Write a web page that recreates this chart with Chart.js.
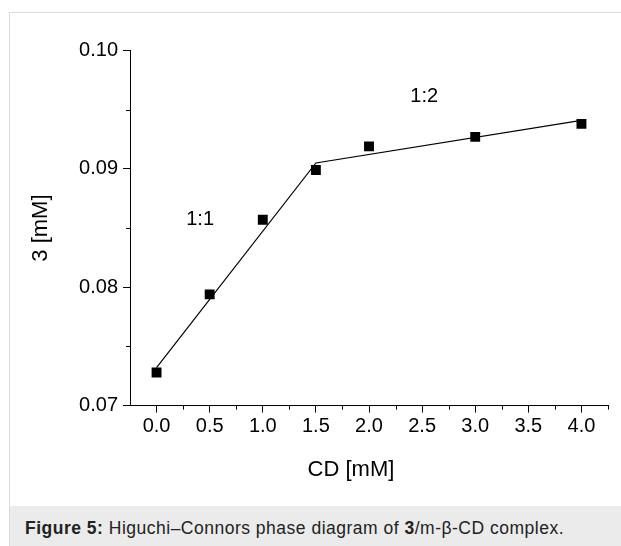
<!DOCTYPE html>
<html lang="en">
<head>
  <meta charset="UTF-8" />
  <title>Higuchi–Connors phase diagram</title>
  <script src="https://cdn.jsdelivr.net/npm/chart.js"></script>
  <style>
    html, body {
      margin: 0;
      padding: 0;
      background: #fff;
    }

    body {
      width: 621px;
      height: 546px;
      overflow: hidden;
      position: relative;
      font-family: "Liberation Sans", Arial, sans-serif;
    }

    .frame {
      position: absolute;
      left: 9px;
      top: 12px;
      right: 0;
      bottom: 0;
      border-top: 1px solid #dcdcdc;
      border-left: 1px solid #dcdcdc;
    }

    .chart-box {
      position: absolute;
      left: 0;
      top: 0;
      width: 611px;
      height: 493px;
    }

    .caption {
      position: absolute;
      left: 0;
      right: 0;
      top: 493px;
      bottom: 0;
      background: #ebebeb;
      color: #222;
      font-size: 17.5px;
      letter-spacing: 0.5px;
      line-height: 36px;
      padding: 4px 0 0 15px;
      box-sizing: border-box;
      white-space: nowrap;
    }
  </style>
</head>
<body>
  <div class="frame">
    <div class="chart-box">
      <canvas id="phaseChart" width="611" height="493"></canvas>
    </div>
    <div class="caption"><b>Figure 5:</b> Higuchi–Connors phase diagram of <b>3</b>/m-β-CD complex.</div>
  </div>

  <script>
    // measured points: CD [mM] vs 3 [mM]
    const cdConc = [0.0, 0.5, 1.0, 1.5, 2.0, 3.0, 4.0];
    const solubility = [0.0728, 0.0794, 0.0857, 0.0899, 0.0919, 0.0927, 0.0938];

    // the two fitted segments (1:1 and 1:2)
    const fitX = [0.0, 1.5, 4.0];
    const fitY = [0.0732, 0.0905, 0.0941];

    const xMajorTicks = [0.0, 0.5, 1.0, 1.5, 2.0, 2.5, 3.0, 3.5, 4.0];
    const xMinorTicks = [0.25, 0.75, 1.25, 1.75, 2.25, 2.75, 3.25, 3.75, 4.25];
    const yMajorTicks = [0.07, 0.08, 0.09, 0.10];
    const yMinorTicks = [0.075, 0.085, 0.095];

    const ratioNotes = ['1:1', '1:2'];
    const ratioNoteX = [0.41, 2.52];
    const ratioNoteY = [0.0857, 0.0961];

    const FONT = '"Liberation Sans", Arial, sans-serif';

    const minorTicks = {
      id: 'minorTicks',
      afterDraw(chart) {
        const { ctx, chartArea, scales } = chart;
        ctx.save();
        ctx.strokeStyle = '#000';
        ctx.lineWidth = 1;
        ctx.beginPath();
        xMinorTicks.forEach(v => {
          const px = Math.round(scales.x.getPixelForValue(v)) + 0.5;
          ctx.moveTo(px, chartArea.bottom);
          ctx.lineTo(px, chartArea.bottom + 4);
        });
        yMinorTicks.forEach(v => {
          const py = Math.round(scales.y.getPixelForValue(v)) + 0.5;
          ctx.moveTo(chartArea.left - 4, py);
          ctx.lineTo(chartArea.left, py);
        });
        ctx.stroke();
        ctx.restore();
      }
    };

    const textMarks = {
      id: 'textMarks',
      afterDraw(chart) {
        const { ctx, chartArea, scales } = chart;
        ctx.save();
        ctx.fillStyle = '#000';
        ctx.font = '20px ' + FONT;
        ctx.textAlign = 'center';
        ctx.textBaseline = 'middle';
        ratioNotes.forEach((t, i) => {
          ctx.fillText(t, scales.x.getPixelForValue(ratioNoteX[i]), scales.y.getPixelForValue(ratioNoteY[i]));
        });
        // x axis title sits a bit left of the plot centre in the original
        ctx.font = '22px ' + FONT;
        ctx.textBaseline = 'alphabetic';
        ctx.fillText('CD [mM]', (chartArea.left + chartArea.right) / 2 - 18, chartArea.bottom + 70);
        ctx.restore();
      }
    };

    const ctx = document.getElementById('phaseChart').getContext('2d');

    new Chart(ctx, {
      type: 'scatter',
      data: {
        datasets: [
          {
            label: 'fit',
            data: fitX.map((x, i) => ({ x, y: fitY[i] })),
            showLine: true,
            borderColor: '#000',
            borderWidth: 1.2,
            pointRadius: 0,
            order: 2
          },
          {
            label: '3',
            data: cdConc.map((x, i) => ({ x, y: solubility[i] })),
            pointStyle: 'rect',
            pointRadius: 7,
            pointBackgroundColor: '#000',
            pointBorderWidth: 0,
            order: 1
          }
        ]
      },
      options: {
        responsive: false,
        animation: false,
        devicePixelRatio: 1,
        layout: { padding: { top: 37.5, right: 13, left: 0, bottom: 0 } },
        plugins: {
          legend: { display: false },
          tooltip: { enabled: false }
        },
        scales: {
          x: {
            type: 'linear',
            min: -0.25,
            max: 4.25,
            afterBuildTicks: s => { s.ticks = xMajorTicks.map(v => ({ value: v })); },
            afterFit: s => { s.height = 100.4; },
            grid: { drawOnChartArea: false, tickLength: 7, color: '#000', lineWidth: 1 },
            border: { color: '#000', width: 1 },
            ticks: {
              color: '#000',
              padding: 2,
              font: { family: FONT, size: 20 },
              callback: v => Number(v).toFixed(1)
            }
          },
          y: {
            type: 'linear',
            min: 0.07,
            max: 0.10,
            afterBuildTicks: s => { s.ticks = yMajorTicks.map(v => ({ value: v })); },
            afterFit: s => { s.width = 120; },
            grid: { drawOnChartArea: false, tickLength: 7, color: '#000', lineWidth: 1 },
            border: { color: '#000', width: 1 },
            ticks: {
              color: '#000',
              padding: 5,
              font: { family: FONT, size: 20 },
              callback: v => Number(v).toFixed(2)
            },
            title: {
              display: true,
              text: '3 [mM]',
              color: '#000',
              font: { family: FONT, size: 22 },
              padding: { top: 18, bottom: 0 }
            }
          }
        }
      },
      plugins: [minorTicks, textMarks]
    });
  </script>
</body>
</html>
